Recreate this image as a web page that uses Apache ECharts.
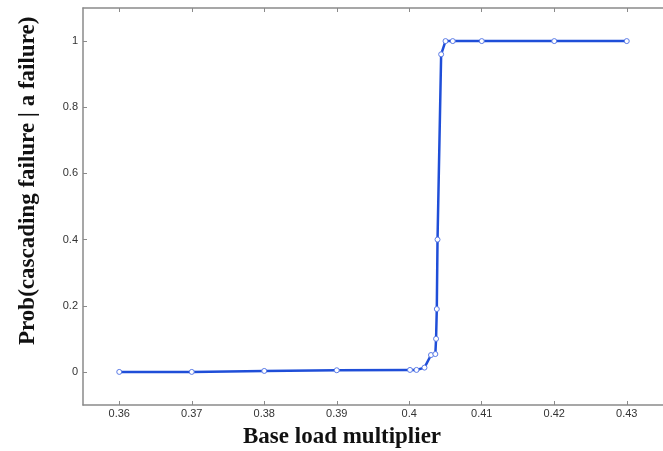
<!DOCTYPE html>
<html><head><meta charset="utf-8">
<script src="https://cdn.jsdelivr.net/npm/echarts@6/dist/echarts.min.js"></script>
<style>html,body{margin:0;padding:0;background:#fff}#c{width:663px;height:451px}</style>
</head><body><div id="c"></div>
<script>
const xValues = [0.36, 0.37, 0.38, 0.39, 0.4001, 0.401, 0.4021, 0.403, 0.4036, 0.4037, 0.4038, 0.4039, 0.4044, 0.405, 0.406, 0.41, 0.42, 0.43];
const yValues = [0.0, 0.0, 0.003, 0.005, 0.006, 0.006, 0.013, 0.051, 0.054, 0.10, 0.19, 0.40, 0.96, 1.0, 1.0, 1.0, 1.0, 1.0];
const xTicks = [0.36, 0.37, 0.38, 0.39, 0.40, 0.41, 0.42, 0.43];
const yTicks = [0, 0.2, 0.4, 0.6, 0.8, 1];
const xTitle = 'Base load multiplier';
const yTitle = 'Prob(cascading failure | a failure)';

const chart = echarts.init(document.getElementById('c'));
const lineCol = '#8a8a8a';
const tick = vals => ({show: true, inside: true, length: 4, lineStyle: {color: lineCol}, customValues: vals});
const line = {show: true, onZero: false, lineStyle: {color: lineCol, width: 1.5}};
chart.setOption({
  animation: false,
  grid: {left: 83, right: -6, top: 8, bottom: 46, containLabel: false},
  xAxis: [{
    type: 'value', min: 0.355, max: 0.435, position: 'bottom',
    axisLine: line, axisTick: tick(xTicks), splitLine: {show: false},
    axisLabel: {customValues: xTicks, color: '#333', fontSize: 11, fontFamily: 'Liberation Sans', margin: 3,
      formatter: v => String(+v.toFixed(2))}
  }, {
    type: 'value', min: 0.355, max: 0.435, position: 'top',
    axisLine: line, axisTick: tick(xTicks), splitLine: {show: false},
    axisLabel: {show: false}
  }],
  yAxis: {
    type: 'value', min: -0.1, max: 1.1,
    axisLine: line, axisTick: tick(yTicks), splitLine: {show: false},
    axisLabel: {customValues: yTicks, color: '#333', fontSize: 11, fontFamily: 'Liberation Sans', margin: 5,
      formatter: v => String(+v.toFixed(1))}
  },
  graphic: [
    {type: 'text', left: 243, top: 426, style: {text: xTitle, font: 'bold 23px "Liberation Serif"', fill: '#111'}},
    {type: 'text', x: 17, y: 345, rotation: Math.PI / 2, style: {text: yTitle, font: 'bold 23px "Liberation Serif"', fill: '#111'}}
  ],
  series: [{
    type: 'line',
    xAxisIndex: 0,
    data: xValues.map((x, i) => [x, yValues[i]]),
    lineStyle: {color: '#1f4ed8', width: 2.5},
    itemStyle: {color: '#fff', borderColor: '#5a7ae6', borderWidth: 1},
    symbol: 'circle', symbolSize: 5, showSymbol: true
  }]
});
</script></body></html>
